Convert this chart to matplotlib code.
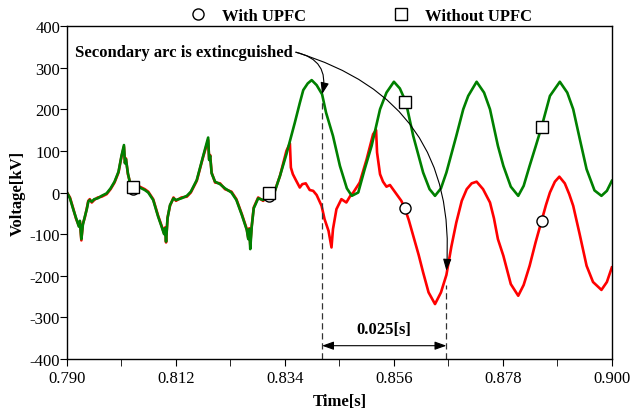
import matplotlib
matplotlib.use("Agg")
import matplotlib.pyplot as plt
from matplotlib.lines import Line2D
from matplotlib.ticker import AutoMinorLocator
import numpy as np

plt.rcParams["font.family"] = ["Liberation Serif", "DejaVu Serif"]
plt.rcParams["axes.unicode_minus"] = False

# common part before the fault clearing (both cases nearly equal)
t_pre = [0.7900, 0.7906, 0.7913, 0.7918, 0.7924, 0.7926, 0.7929, 0.7932, 0.7936, 0.7940,
         0.7943, 0.7946, 0.7950, 0.7955, 0.7962, 0.7970, 0.7980, 0.7988, 0.7996, 0.8004,
         0.8010, 0.8015, 0.8017, 0.8019, 0.8023, 0.8027, 0.8034, 0.8040, 0.8047, 0.8057,
         0.8064, 0.8074, 0.8084, 0.8091, 0.8096, 0.8098, 0.8100, 0.8103, 0.8108, 0.8115,
         0.8120, 0.8131, 0.8142, 0.8150, 0.8162, 0.8175, 0.8185, 0.8187, 0.8189, 0.8192,
         0.8199, 0.8209, 0.8219, 0.8232, 0.8242, 0.8253, 0.8263, 0.8266, 0.8268, 0.8270,
         0.8273, 0.8277, 0.8286, 0.8296, 0.8308, 0.8316, 0.8330]
v_pre_red = [0, -12, -40, -62, -80, -70, -115, -75, -60, -38,
             -20, -16, -24, -18, -12, -10, -4, 8, 24, 48,
             86, 110, 72, 82, 44, 26, 12, 18, 14, 8,
             2, -16, -56, -80, -98, -84, -120, -60, -32, -12,
             -20, -12, -10, 0, 28, 86, 126, 80, 90, 48,
             24, 22, 8, 2, -16, -52, -88, -110, -86, -125,
             -80, -36, -12, -20, -8, -8, 40]
v_pre_green = [0, -14, -42, -60, -82, -68, -112, -78, -58, -40,
               -22, -18, -22, -16, -14, -8, -2, 10, 26, 50,
               88, 114, 70, 80, 46, 24, 14, 20, 12, 6,
               0, -18, -58, -82, -100, -86, -118, -62, -30, -14,
               -18, -14, -8, 2, 30, 88, 132, 78, 88, 46,
               26, 20, 10, 0, -18, -54, -90, -112, -88, -136,
               -82, -38, -14, -18, -6, -10, 40]

# after 0.833 s
t_red = [0.8343, 0.8350, 0.8352, 0.8356, 0.8362, 0.8370, 0.8375, 0.8382, 0.8390, 0.8397,
         0.8404, 0.8414, 0.8420, 0.8428, 0.8434, 0.8437, 0.8444, 0.8454, 0.8464, 0.8472,
         0.8478, 0.8491, 0.8505, 0.8518, 0.8524, 0.8526, 0.8532, 0.8538, 0.8545, 0.8552,
         0.8558, 0.8565, 0.8575, 0.8582, 0.8590, 0.8599, 0.8610, 0.8619, 0.8630, 0.8643,
         0.8655, 0.8666, 0.8676, 0.8686, 0.8697, 0.8707, 0.8717, 0.8727, 0.8740, 0.8754,
         0.8762, 0.8770, 0.8781, 0.8796, 0.8811, 0.8822, 0.8834, 0.8846, 0.8858, 0.8867,
         0.8875, 0.8885, 0.8894, 0.8905, 0.8914, 0.8922, 0.8935, 0.8949, 0.8962, 0.8979,
         0.8990, 0.9000]
v_red = [100, 118, 60, 44, 30, 12, 20, 22, 6, 4,
         -6, -32, -64, -92, -132, -88, -40, -16, -24, -8,
         0, 24, 80, 140, 150, 96, 44, 26, 14, 18,
         8, -4, -20, -38, -66, -104, -150, -192, -240, -268,
         -240, -198, -130, -72, -20, 8, 22, 26, 8, -24,
         -62, -112, -152, -220, -248, -222, -176, -120, -68, -30,
         0, 26, 38, 22, -4, -32, -100, -176, -215, -234,
         -215, -180]

t_green = [0.8343, 0.8360, 0.8370, 0.8377, 0.8386, 0.8394, 0.8404, 0.8415, 0.8423, 0.8437,
           0.8451, 0.8465, 0.8475, 0.8488, 0.8501, 0.8515, 0.8532, 0.8545, 0.8560, 0.8572,
           0.8584, 0.8599, 0.8619, 0.8632, 0.8643, 0.8655, 0.8666, 0.8686, 0.8700, 0.8710,
           0.8727, 0.8742, 0.8754, 0.8770, 0.8781, 0.8796, 0.8811, 0.8822, 0.8834, 0.8846,
           0.8858, 0.8875, 0.8895, 0.8910, 0.8922, 0.8935, 0.8949, 0.8965, 0.8979, 0.8990,
           0.9000]
v_green = [92, 168, 215, 246, 262, 270, 258, 236, 192, 136,
           64, 10, -8, 0, 56, 112, 200, 240, 266, 250,
           218, 136, 48, 8, -8, 10, 48, 136, 200, 232,
           266, 240, 200, 112, 64, 14, -8, 16, 64, 110,
           157, 232, 266, 240, 200, 130, 56, 5, -8, 4,
           28]

# marker samples
t_mark = [0.8034, 0.8308, 0.8583, 0.8858]
v_mark_red = [9, -8, -38, -68]
v_mark_green = [14, 0, 218, 157]

xticks = [0.790, 0.812, 0.834, 0.856, 0.878, 0.900]
yticks = [-400, -300, -200, -100, 0, 100, 200, 300, 400]

t_extinct_a = 0.8415
t_extinct_b = 0.8666

red = "#ff0000"
green = "#008000"

fig = plt.figure(figsize=(6.38, 4.14), dpi=100)
ax = fig.add_axes([0.105, 0.1304, 0.854, 0.8044])

ax.plot(t_pre + t_red, v_pre_red + v_red, color=red, lw=1.9)
ax.plot(t_pre + t_green, v_pre_green + v_green, color=green, lw=1.9)
ax.plot(t_mark, v_mark_red, ls="none", marker="o", ms=8, mfc="white", mec="black", mew=1)
ax.plot(t_mark, v_mark_green, ls="none", marker="s", ms=8, mfc="white", mec="black", mew=1)

ax.set_xlim(0.790, 0.900)
ax.set_ylim(-400, 400)
ax.set_xticks(xticks)
ax.set_xticklabels(["%.3f" % x for x in xticks])
ax.set_yticks(yticks)
ax.set_yticklabels([str(y) for y in yticks])
ax.xaxis.set_minor_locator(AutoMinorLocator(2))
ax.tick_params(axis="both", which="both", direction="out", labelsize=12, color="black")
ax.tick_params(axis="x", which="both", length=5, pad=3)
ax.tick_params(axis="y", length=5, pad=0)
for s in ax.spines.values():
    s.set_linewidth(1.0)

ax.set_xlabel("Time[s]", fontsize=12, fontweight="bold", labelpad=5)
ax.set_ylabel("Voltage[kV]", fontsize=12, fontweight="bold", labelpad=3)

# annotation: secondary arc extinguished
ax.text(0.7916, 337, "Secondary arc is extincguished", fontsize=12, fontweight="bold",
        ha="left", va="center")
arr = dict(arrowstyle="-|>,head_length=0.7,head_width=0.25", color="black", lw=0.8,
           shrinkA=0, shrinkB=0)
ax.annotate("", xy=(t_extinct_a, 236), xytext=(0.8362, 337),
            arrowprops=dict(arr, connectionstyle="arc3,rad=-0.5"))
ax.annotate("", xy=(t_extinct_b, -188), xytext=(0.8362, 337),
            arrowprops=dict(arr, connectionstyle="arc3,rad=-0.4"))

ax.vlines(t_extinct_a, -400, 222, colors="#333333", linestyles=(0, (5, 3)), lw=0.9)
ax.vlines(t_extinct_b, -400, -222, colors="#333333", linestyles=(0, (5, 3)), lw=0.9)
ax.annotate("", xy=(t_extinct_a, -368), xytext=(t_extinct_b, -368),
            arrowprops=dict(arrowstyle="<|-|>,head_length=0.7,head_width=0.25",
                            color="black", lw=0.8, shrinkA=0, shrinkB=0))
ax.text((t_extinct_a + t_extinct_b) / 2, -328, "0.025[s]", fontsize=12, fontweight="bold",
        ha="center", va="center")

handles = [Line2D([], [], ls="none", marker="o", ms=8, mfc="white", mec="black"),
           Line2D([], [], ls="none", marker="s", ms=8, mfc="white", mec="black")]
ax.legend(handles, ["With UPFC", "Without UPFC"], ncol=2, loc="lower center",
          bbox_to_anchor=(0.538, 0.975), frameon=False, prop=dict(size=12, weight="bold"),
          handlelength=1.2, handletextpad=0.85, columnspacing=5.1, borderpad=0.1)

fig.savefig("out.png", dpi=100)
